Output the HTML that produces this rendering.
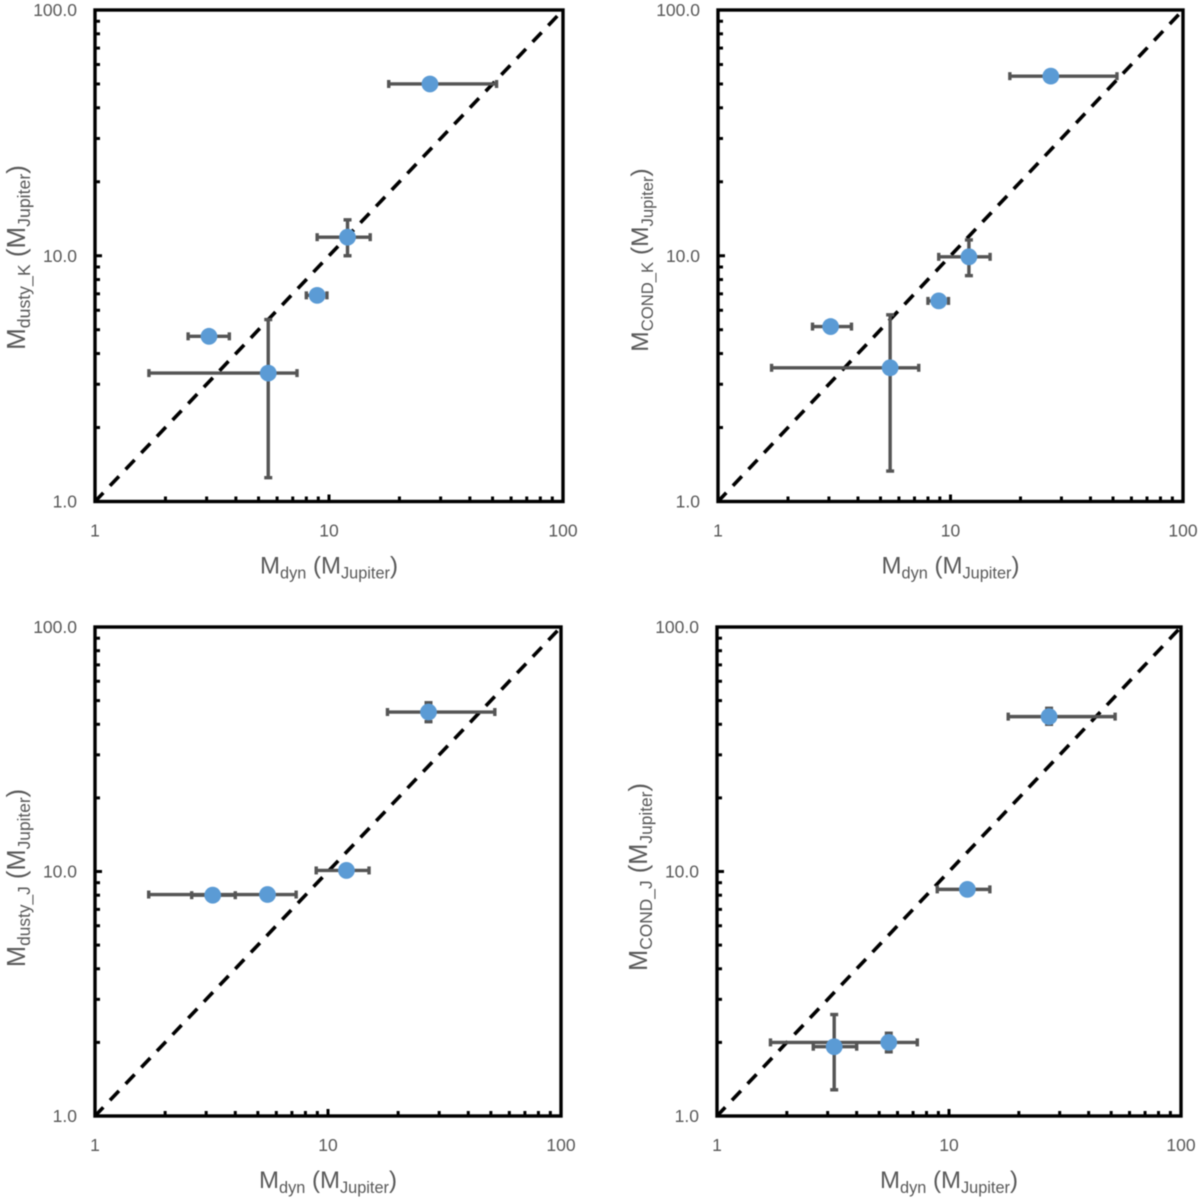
<!DOCTYPE html>
<html lang="en">
<head>
<meta charset="utf-8">
<title>Model mass versus dynamical mass</title>
<style>
html,body{margin:0;padding:0;background:#fff;width:1200px;height:1203px;overflow:hidden}
svg{display:block;filter:blur(0.5px)}
text{font-family:"Liberation Sans",sans-serif;fill:#595959}
</style>
</head>
<body>
<svg id="chart" xmlns="http://www.w3.org/2000/svg" width="1200" height="1203" viewBox="0 0 1200 1203"></svg>
<script>
// Shared tick labels
const xTickValues = [1, 10, 100];
const xTickLabels = ['1', '10', '100'];
const yTickValues = [1, 10, 100];
const yTickLabels = ['1.0', '10.0', '100.0'];
const minorMultipliers = [2, 3, 4, 5, 6, 7, 8, 9];
const identityLine = [1, 100];

// Panel A: dusty K
const dustyKDyn = [27, 12, 8.9, 3.07, 5.5];
const dustyKDynLow = [18, 8.9, 8, 2.5, 1.7];
const dustyKDynHigh = [52, 15, 9.8, 3.75, 7.3];
const dustyKMass = [50, 11.9, 6.9, 4.7, 3.33];
const dustyKMassLow = [50, 10, 6.7, 4.5, 1.25];
const dustyKMassHigh = [50, 14, 7.1, 4.95, 5.5];

// Panel B: COND K
const condKDyn = [27, 12, 8.9, 3.05, 5.5];
const condKDynLow = [18, 8.9, 8, 2.55, 1.7];
const condKDynHigh = [52, 14.8, 9.8, 3.75, 7.3];
const condKMass = [53.8, 9.9, 6.55, 5.15, 3.5];
const condKMassLow = [53.8, 8.3, 6.35, 4.95, 1.33];
const condKMassHigh = [53.8, 11.6, 6.75, 5.4, 5.75];

// Panel C: dusty J
const dustyJDyn = [27, 12, 3.2, 5.5];
const dustyJDynLow = [18, 8.9, 2.6, 1.7];
const dustyJDynHigh = [52, 15, 4, 7.3];
const dustyJMass = [44.9, 10.1, 8, 8.05];
const dustyJMassLow = [41, 9.7, 7.7, 7.75];
const dustyJMassHigh = [49, 10.5, 8.3, 8.35];

// Panel D: COND J
const condJDyn = [27, 12, 3.2, 5.5];
const condJDynLow = [18, 8.9, 2.6, 1.7];
const condJDynHigh = [52, 15, 4, 7.3];
const condJMass = [43, 8.45, 1.92, 2];
const condJMassLow = [40, 8.2, 1.28, 1.83];
const condJMassHigh = [46.5, 8.7, 2.6, 2.18];

const NS = 'http://www.w3.org/2000/svg';
const root = document.getElementById('chart');

function node(parent, tag, attrs) {
  const el = document.createElementNS(NS, tag);
  for (const k in attrs) el.setAttribute(k, attrs[k]);
  parent.appendChild(el);
  return el;
}

function addTitle(parent, size, sub1, sub2, x, y, rotate, name) {
  const subSize = size * 0.68;
  const shift = size * 0.2;
  const t = node(parent, 'text', {x: x, y: y, 'font-size': size, 'text-anchor': 'middle'});
  
  
  if (rotate) t.setAttribute('transform', 'rotate(-90 ' + x + ' ' + y + ')');
  const a = node(t, 'tspan', {}); a.textContent = 'M';
  const b = node(t, 'tspan', {'font-size': subSize, dy: shift}); b.textContent = sub1;
  const c = node(t, 'tspan', {dy: -shift}); c.textContent = ' (M';
  const d = node(t, 'tspan', {'font-size': subSize, dy: shift}); d.textContent = sub2;
  const e = node(t, 'tspan', {dy: -shift}); e.textContent = ')';
}

function drawPanel(cfg) {
  const g = node(root, 'g', {});
  
  

  const sx = v => cfg.left + (Math.log10(v) / 2) * (cfg.right - cfg.left);
  const sy = v => cfg.bottom - (Math.log10(v) / 2) * (cfg.bottom - cfg.top);

  // Identity line
  const line = node(g, 'line', {
    x1: sx(identityLine[0]), y1: sy(identityLine[0]),
    x2: sx(identityLine[1]), y2: sy(identityLine[1]),
    stroke: '#000', 'stroke-width': 3.6, 'stroke-dasharray': '13 9.7', 'stroke-dashoffset': 1
  });
  
  

  // Minor and major ticks
  const xTicks = node(g, 'g', {stroke: '#000', 'stroke-width': 3});
  
  
  const yTicks = node(g, 'g', {stroke: '#000', 'stroke-width': 3});
  
  
  [1, 10].forEach(decade => {
    minorMultipliers.forEach(m => {
      const v = decade * m;
      node(xTicks, 'line', {x1: sx(v), x2: sx(v), y1: cfg.bottom, y2: cfg.bottom - 5});
      node(yTicks, 'line', {y1: sy(v), y2: sy(v), x1: cfg.left, x2: cfg.left + 5});
    });
  });
  node(xTicks, 'line', {x1: sx(10), x2: sx(10), y1: cfg.bottom, y2: cfg.bottom - 7});
  node(yTicks, 'line', {y1: sy(10), y2: sy(10), x1: cfg.left, x2: cfg.left + 7});

  // Frame
  const frame = node(g, 'rect', {
    x: cfg.left, y: cfg.top, width: cfg.right - cfg.left, height: cfg.bottom - cfg.top,
    fill: 'none', stroke: '#000', 'stroke-width': 3.4
  });
  
  

  // Tick labels
  xTickValues.forEach((v, i) => {
    const t = node(g, 'text', {x: sx(v), y: cfg.bottom + 35, 'font-size': 17.5, 'text-anchor': 'middle'});
    
    
    t.textContent = xTickLabels[i];
  });
  yTickValues.forEach((v, i) => {
    const t = node(g, 'text', {x: cfg.left - 18, y: sy(v) + 6, 'font-size': 17.5, 'text-anchor': 'end'});
    
    
    t.textContent = yTickLabels[i];
  });

  // Axis titles
  addTitle(g, 24, 'dyn', 'Jupiter', (cfg.left + cfg.right) / 2, cfg.bottom + 72, false, 'x-axis-title');
  addTitle(g, cfg.yFont, cfg.ySub, 'Jupiter', cfg.left - 70, cfg.yMid, true, 'y-axis-title');

  // Error bars
  const errStyle = {stroke: '#555555', 'stroke-width': 3.4};
  cfg.x.forEach((xv, i) => {
    const eb = node(g, 'g', errStyle);
    
    
    const px = sx(xv), py = sy(cfg.y[i]);
    node(eb, 'line', {x1: sx(cfg.xLow[i]), x2: sx(cfg.xHigh[i]), y1: py, y2: py});
    node(eb, 'line', {x1: sx(cfg.xLow[i]), x2: sx(cfg.xLow[i]), y1: py - 4, y2: py + 4});
    node(eb, 'line', {x1: sx(cfg.xHigh[i]), x2: sx(cfg.xHigh[i]), y1: py - 4, y2: py + 4});
    if (cfg.yLow[i] !== cfg.yHigh[i]) {
      const lo = sy(cfg.yLow[i]), hi = sy(cfg.yHigh[i]);
      node(eb, 'line', {x1: px, x2: px, y1: lo, y2: hi});
      node(eb, 'line', {x1: px - 4, x2: px + 4, y1: lo, y2: lo});
      node(eb, 'line', {x1: px - 4, x2: px + 4, y1: hi, y2: hi});
    }
  });

  // Points
  cfg.x.forEach((xv, i) => {
    const c = node(g, 'circle', {cx: sx(xv), cy: sy(cfg.y[i]), r: 8.4, fill: '#5b9bd5'});
    
    
  });
}

drawPanel({name: 'panel-dusty-k', left: 95, right: 563, top: 10, bottom: 501.5, ySub: 'dusty_K', yFont: 26, yMid: 257.5,
  x: dustyKDyn, xLow: dustyKDynLow, xHigh: dustyKDynHigh, y: dustyKMass, yLow: dustyKMassLow, yHigh: dustyKMassHigh});
drawPanel({name: 'panel-cond-k', left: 718, right: 1183, top: 10, bottom: 501.5, ySub: 'COND_K', yFont: 24.5, yMid: 260,
  x: condKDyn, xLow: condKDynLow, xHigh: condKDynHigh, y: condKMass, yLow: condKMassLow, yHigh: condKMassHigh});
drawPanel({name: 'panel-dusty-j', left: 95, right: 561, top: 627, bottom: 1116, ySub: 'dusty_J', yFont: 25.5, yMid: 878,
  x: dustyJDyn, xLow: dustyJDynLow, xHigh: dustyJDynHigh, y: dustyJMass, yLow: dustyJMassLow, yHigh: dustyJMassHigh});
drawPanel({name: 'panel-cond-j', left: 717, right: 1181, top: 627, bottom: 1116, ySub: 'COND_J', yFont: 25.5, yMid: 877,
  x: condJDyn, xLow: condJDynLow, xHigh: condJDynHigh, y: condJMass, yLow: condJMassLow, yHigh: condJMassHigh});
</script>
</body>
</html>
